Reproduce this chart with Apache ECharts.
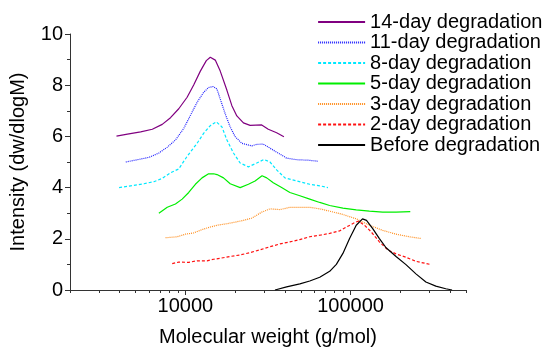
<!DOCTYPE html>
<html>
<head>
<meta charset="utf-8">
<script src="https://cdn.jsdelivr.net/npm/echarts@6/dist/echarts.min.js"></script>
<style>html,body{margin:0;padding:0;background:#fff;}#c{width:547px;height:352px;}</style>
</head>
<body>
<div id="c"></div>
<script>
const seriesNames = ['14-day degradation','11-day degradation','8-day degradation','5-day degradation','3-day degradation','2-day degradation','Before degradation'];

const mw14 = [3824,4455,5357,6301,7237,8122,9112,10238,11220,12312,13381,14144,15159,16246,17834,19110,20480,22450,24640,28970,31750,35670,39480];
const int14 = [6.01,6.09,6.18,6.28,6.47,6.73,7.08,7.53,8.01,8.55,8.96,9.09,8.98,8.55,7.8,7.2,6.8,6.53,6.43,6.45,6.28,6.14,5.99];

const mw11 = [4351,5117,6009,6905,7760,8704,9767,10718,11762,12890,13812,14687,15524,16246,17418,18665,20000,21960,25220,27030,29620,32510,36480,41000,47100,55330,63530];
const int11 = [5.0,5.09,5.18,5.35,5.58,5.86,6.31,6.82,7.33,7.72,7.91,7.95,7.85,7.46,6.88,6.37,5.99,5.73,5.63,5.69,5.70,5.54,5.35,5.15,5.09,5.07,5.03];

const mw8 = [3964,4664,5608,6442,7237,8122,9112,10238,11762,12890,14144,15370,16636,17834,19540,21450,24060,27030,29910,32510,35670,40040,47100,56620,65050,72990];
const int8 = [4.0,4.07,4.15,4.23,4.36,4.58,4.73,5.22,5.73,6.12,6.42,6.57,6.37,5.86,5.35,4.96,4.81,4.96,5.10,5.0,4.69,4.38,4.26,4.13,4.07,4.0];

const mw5 = [6905,7760,8704,9553,10469,11487,12606,13812,14810,15524,17010,18665,21450,24060,26410,29100,31070,34040,38240,42910,49300,56620,65050,74720,89870,108200,130100,156500,188500,229900];
const int5 = [3.0,3.23,3.36,3.55,3.81,4.13,4.38,4.54,4.54,4.51,4.38,4.15,4.0,4.13,4.26,4.46,4.38,4.19,4.0,3.81,3.68,3.55,3.42,3.30,3.20,3.13,3.08,3.04,3.04,3.06];

const mw3 = [7578,8913,10000,11220,12606,14144,15870,17834,20000,22450,25220,28970,32510,37350,42910,49300,56620,65050,74720,89870,108200,130100,156500,188500,226700,267700];
const int3 = [2.04,2.08,2.18,2.23,2.36,2.46,2.54,2.59,2.65,2.72,2.81,3.04,3.17,3.14,3.23,3.23,3.23,3.17,3.08,2.95,2.78,2.53,2.33,2.18,2.08,2.01];

const mw2 = [8316,9112,10469,11762,13510,14810,16246,18665,21450,24640,28290,32510,37350,42910,49300,56620,65050,74720,85840,96320,105700,111700,121400,133300,149500,167800,188500,216500,248800,303400];
const int2 = [1.03,1.09,1.08,1.14,1.14,1.20,1.24,1.31,1.37,1.46,1.57,1.69,1.80,1.88,1.97,2.08,2.14,2.21,2.31,2.49,2.63,2.69,2.53,2.27,1.88,1.57,1.41,1.28,1.12,1.0];

const mw0 = [34850,41000,49300,56620,65050,74720,82000,89870,98630,108200,118100,124900,136200,149500,164100,188500,216500,248800,285800,328300,377200,411800];
const int0 = [0,0.12,0.24,0.35,0.5,0.73,1.0,1.43,2.01,2.53,2.78,2.72,2.40,2.01,1.65,1.31,0.99,0.63,0.31,0.15,0.05,0];

const xMajorTicks = [10000, 100000];
const xMinorTicks = [2000,3000,4000,5000,6000,7000,8000,9000,20000,30000,40000,50000,60000,70000,80000,90000,200000,300000,400000,500000];

const xs = [mw14, mw11, mw8, mw5, mw3, mw2, mw0];
const ys = [int14, int11, int8, int5, int3, int2, int0];
const colors = ['#800080', '#2020ff', '#00e8ff', '#00ee00', '#ff8c1a', '#ff1010', '#000000'];
const types = ['solid', [1, 1], [3, 2], 'solid', [1, 1], [3, 2], 'solid'];

const FONT = 'Liberation Sans, Arial, sans-serif';

const series = seriesNames.map((n, i) => ({
  name: n,
  type: 'line',
  symbol: 'none',
  showSymbol: false,
  silent: true,
  animation: false,
  data: xs[i].map((x, j) => [x, ys[i][j]]),
  lineStyle: { color: colors[i], width: 1.2, type: types[i] },
  itemStyle: { color: colors[i] }
}));

const chart = echarts.init(document.getElementById('c'), null, { renderer: 'canvas' });
chart.setOption({
  animation: false,
  backgroundColor: '#fff',
  textStyle: { fontFamily: FONT },
  grid: { left: 70, top: 34, right: 81, bottom: 58, containLabel: false },
  legend: {
    data: seriesNames,
    orient: 'vertical',
    left: 317,
    top: 12,
    padding: 0,
    itemGap: 0.5,
    itemWidth: 47,
    itemHeight: 14,
    itemStyle: { opacity: 0 },
    lineStyle: { width: 2.2 },
    textStyle: { fontSize: 20, lineHeight: 20, color: '#000', fontFamily: FONT }
  },
  xAxis: [{
    type: 'log',
    logBase: 10,
    min: 2000,
    max: 500000,
    name: 'Molecular weight (g/mol)',
    nameLocation: 'middle',
    nameGap: 37,
    nameTextStyle: { fontSize: 20, color: '#000', fontFamily: FONT },
    axisLine: { show: true, onZero: false, lineStyle: { color: '#333', width: 1 } },
    axisTick: { show: true, length: 5, lineStyle: { color: '#333' }, customValues: xMajorTicks },
    axisLabel: { show: true, fontSize: 20, color: '#000', margin: 6, fontFamily: FONT, customValues: xMajorTicks, formatter: v => String(v) },
    splitLine: { show: false }
  }, {
    type: 'log',
    logBase: 10,
    min: 2000,
    max: 500000,
    position: 'bottom',
    axisLine: { show: false },
    axisTick: { show: true, length: 3, lineStyle: { color: '#333' }, customValues: xMinorTicks },
    axisLabel: { show: false },
    splitLine: { show: false }
  }],
  yAxis: {
    type: 'value',
    min: 0,
    max: 10,
    interval: 2,
    name: 'Intensity (dw/dlogM)',
    nameLocation: 'middle',
    nameGap: 42,
    nameTextStyle: { fontSize: 20, color: '#000', fontFamily: FONT },
    axisLine: { show: true, lineStyle: { color: '#333', width: 1 } },
    axisTick: { show: true, length: 5, lineStyle: { color: '#333' } },
    minorTick: { show: true, splitNumber: 2, length: 3, lineStyle: { color: '#333' } },
    axisLabel: { fontSize: 20, color: '#000', margin: 7, fontFamily: FONT },
    splitLine: { show: false }
  },
  series: series
});
</script>
</body>
</html>
